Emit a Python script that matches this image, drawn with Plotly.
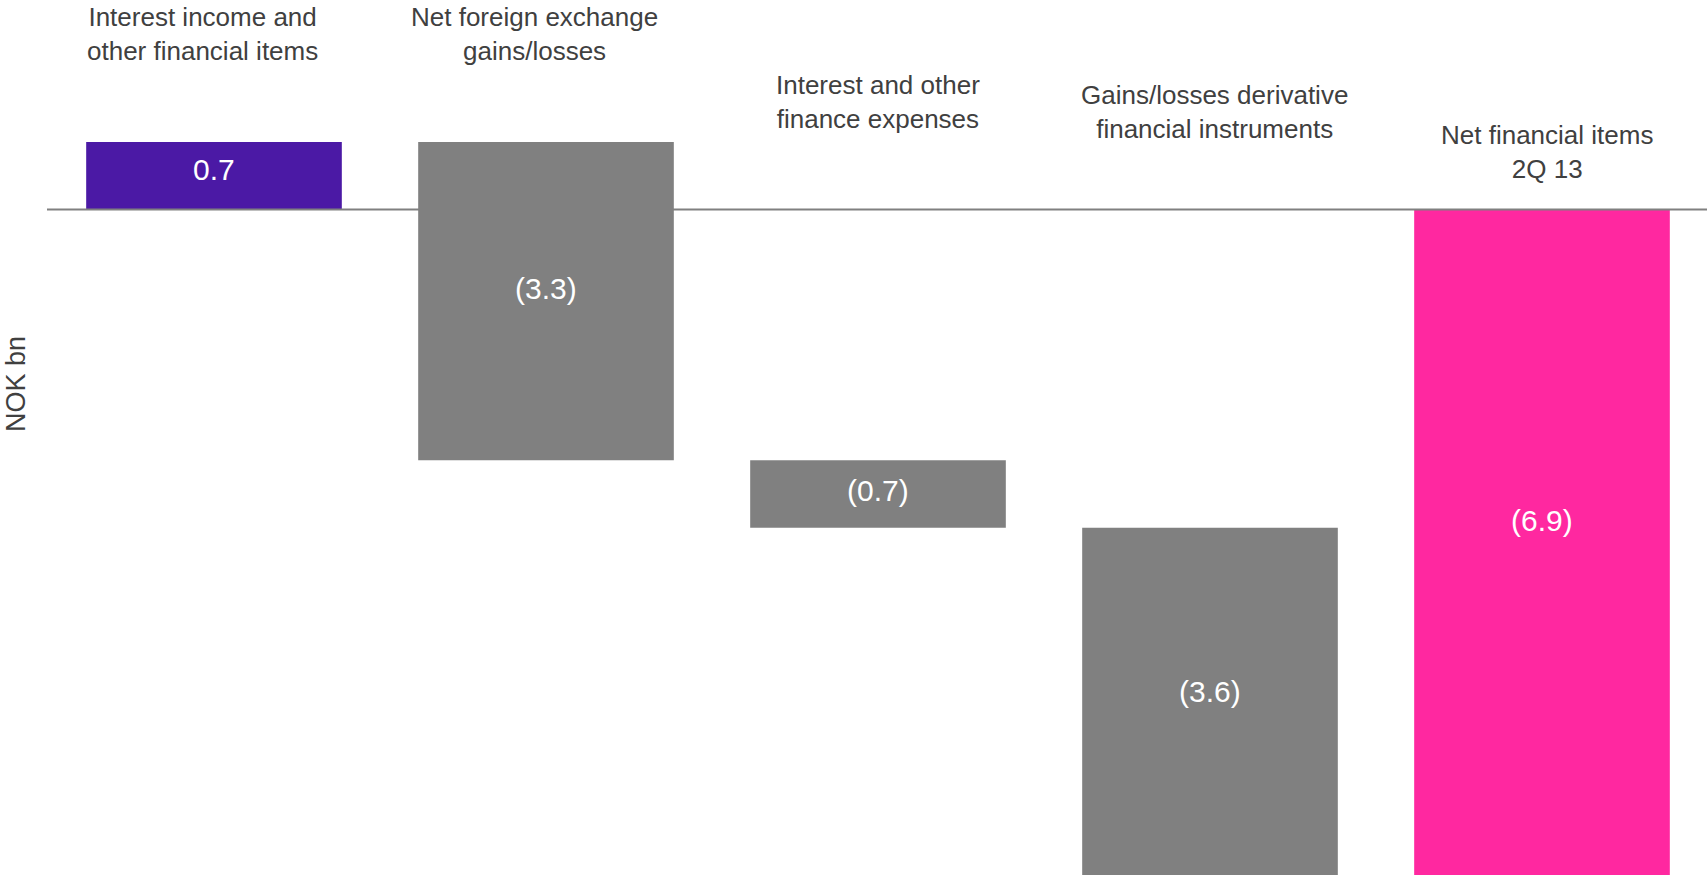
import plotly.graph_objects as go

# Net financial items bridge, NOK bn
categories = [
    "Interest income and<br>other financial items",
    "Net foreign exchange<br>gains/losses",
    "Interest and other<br>finance expenses",
    "Gains/losses derivative<br>financial instruments",
    "Net financial items<br>2Q 13",
]
changes = [0.7, -3.3, -0.7, -3.6]
total = round(sum(changes), 1)  # -6.9
measures = ["relative"] * len(changes) + ["total"]
values = changes + [0]


def fmt(v):
    return f"({abs(v):.1f})" if v < 0 else f"{v:.1f}"


labels = [fmt(v) for v in changes] + [fmt(total)]

# vertical middle of each bar, from the running total
mids = []
running = 0.0
for v in changes:
    mids.append(running + v / 2)
    running += v
mids.append(total / 2)

W, H = 1707, 876
left_margin = 47
font_family = "Liberation Sans, Arial, sans-serif"

fig = go.Figure(
    go.Waterfall(
        x=list(range(len(categories))),
        y=values,
        measure=measures,
        width=0.77,
        increasing=dict(marker=dict(color="#4b19a5")),
        decreasing=dict(marker=dict(color="#808080")),
        totals=dict(marker=dict(color="#ff28a0")),
        connector=dict(visible=False),
        hoverinfo="skip",
        cliponaxis=False,
    )
)

# value labels inside the bars, nudged upward a little
value_yshift = [6, 13, 4, 10, 22]
for i, (lab, m, dy) in enumerate(zip(labels, mids, value_yshift)):
    fig.add_annotation(
        x=i, xref="x", y=m, yref="y",
        text=lab, showarrow=False,
        xanchor="center", yanchor="middle", yshift=dy,
        font=dict(family=font_family, size=30, color="white"),
    )

# vertical placement (pixel centre of each two-line heading) and small x nudges
label_centre_px = [34, 34, 102, 112, 152]
label_xshift = [-12, -12, 0, 4, 5]
for i, (cat, cy, dx) in enumerate(zip(categories, label_centre_px, label_xshift)):
    fig.add_annotation(
        x=i, xref="x",
        y=1 - cy / H, yref="paper",
        text=cat, showarrow=False,
        xanchor="center", yanchor="middle",
        xshift=dx,
        font=dict(family=font_family, size=26, color="#404040"),
        align="center",
    )

fig.add_annotation(
    x=(16 - left_margin) / (W - left_margin), xref="paper",
    y=1 - 384 / H, yref="paper",
    text="NOK bn", textangle=-90, showarrow=False,
    xanchor="center", yanchor="middle",
    font=dict(family=font_family, size=27, color="#404040"),
)

# zero line drawn over the bars
fig.add_shape(
    type="line", xref="paper", yref="y",
    x0=0, x1=1, y0=0, y1=0,
    line=dict(color="#808080", width=2),
    layer="above",
)

px_per_unit = (875 - 209.5) / abs(total)
fig.update_layout(
    width=W, height=H,
    margin=dict(l=left_margin, r=0, t=0, b=0),
    paper_bgcolor="white", plot_bgcolor="white",
    showlegend=False,
    xaxis=dict(range=[-0.503, 4.497], visible=False, fixedrange=True),
    yaxis=dict(
        range=[total - 1 / px_per_unit, 209.5 / px_per_unit],
        visible=False, fixedrange=True,
    ),
)

fig.write_html("out.html", config={"displayModeBar": False})
